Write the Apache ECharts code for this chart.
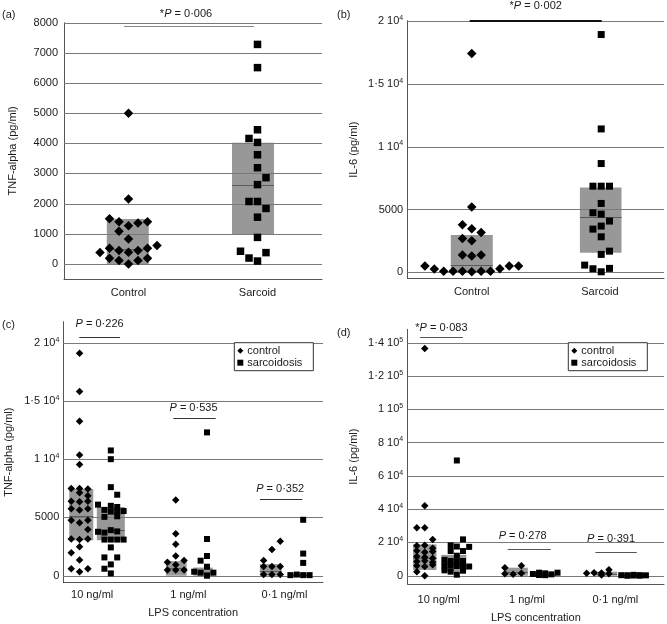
<!DOCTYPE html>
<html><head><meta charset="utf-8">
<script src="https://cdn.jsdelivr.net/npm/echarts@6/dist/echarts.min.js"></script>
<style>html,body{margin:0;padding:0;background:#fff}#chart{width:667px;height:624px}</style>
</head><body><div id="chart"></div>
<script>
// ---------------- DATA ----------------
const abCategories = ['Control', 'Sarcoid'];
const lpsCategories = ['10 ng/ml', '1 ng/ml', '0·1 ng/ml'];
const panelLetters = ['(a)', '(b)', '(c)', '(d)'];
const yTitles = ['TNF-alpha (pg/ml)', 'IL-6 (pg/ml)', 'TNF-alpha (pg/ml)', 'IL-6 (pg/ml)'];
const xTitle = 'LPS concentration';
const legendNames = ['control', 'sarcoidosis'];

// (a) TNF-alpha, values + dot-plot column of each point
const aControl    = [5000, 2150, 1500, 1400, 1265, 1355, 1400, 1080, 830, 380, 520, 445, 390, 445, 520, 610, 190, 115, 0, 115, 190];
const aControlCol = [0, 0, -2, -1, 0, 1, 2, -1, 0, -3, -2, -1, 0, 1, 2, 3, -2, -1, 0, 1, 2];
const aSarcoid    = [7280, 6510, 4450, 4160, 4030, 3620, 3190, 2860, 2630, 2070, 2070, 1840, 1550, 880, 420, 375, 195, 95];
const aSarcoidCol = [0, 0, 0, -1, 0, 0, 0, 1, 0, -1, 0, 1, 0, 0, -2, 1, -1, 0];
const aBoxControl = [0, 1490, 500];     // bottom, top, median
const aBoxSarcoid = [990, 4020, 2615];
const aP = ['*', '0·006'];

// (b) IL-6
const bControl    = [17400, 5200, 3790, 3470, 3180, 2700, 2510, 1380, 1300, 1380, 510, 275, 90, 90, 90, 60, 90, 90, 290, 510, 500];
const bControlCol = [0, 0, -1, 0, 1, -1, 0, -1, 0, 1, -5, -4, -3, -2, -1, 0, 1, 2, 3, 4, 5];
const bSarcoid    = [18900, 11400, 8650, 6850, 6850, 6850, 5480, 4740, 4630, 4080, 3680, 3440, 2830, 1690, 1430, 580, 290, 50, 320];
const bSarcoidCol = [0, 0, 0, -1, 0, 1, 0, -1, 0, 1, 0, -1, 0, 1, 0, -2, -1, 0, 1];
const bBoxControl = [0, 2980, 580];
const bBoxSarcoid = [1560, 6750, 4420];
const bP = ['*', '0·002'];

// (c) TNF-alpha by LPS concentration
const cControl10     = [19100, 15800, 13250, 10350, 9550, 7480, 7480, 7450, 7110, 6860, 6400, 6350, 6400, 5750, 5650, 5750, 4770, 4540, 4770, 3970, 3150, 3100, 3150, 2490, 1970, 1340, 600, 340, 600];
const cControl10Col  = [0, 0, 0, 0, 0, -1, 0, 1, 0, 1, -1, 0, 1, -1, 0, 1, -1, 0, 1, 1, -1, 0, 1, 0, -1, 0, -1, 0, 1];
const cSarcoid10     = [10750, 10000, 7600, 6950, 6100, 6000, 5900, 5650, 5500, 5500, 5550, 5050, 5100, 3770, 3700, 3910, 3800, 3100, 3100, 3100, 3100, 2430, 1570, 1570, 970, 600, 200];
const cSarcoid10Col  = [0, 0, 0, 1, -2, 0, 1, -1, 0, 1, 2, -1, 1, -2, -1, 0, 1, -1, 0, 1, 2, 0, -1, 1, 0, -1, 0];
const cControl1      = [6500, 3600, 2700, 1700, 1150, 950, 1300, 500, 500, 500];
const cControl1Col   = [0, 0, 0, 0, -1, 0, 1, -1, 0, 1];
const cSarcoid1      = [12300, 3150, 1690, 1290, 340, 260, 770, 260, 0];
const cSarcoid1Col   = [0, 0, 0, -1, -2, -1, 0, 1, 0];
const cControl01     = [2950, 2250, 1300, 800, 800, 800, 100, 100, 100];
const cControl01Col  = [1, 0, -1, -1, 0, 1, -1, 0, 1];
const cSarcoid01     = [4800, 1900, 1100, 50, 100, 50, 50];
const cSarcoid01Col  = [0, 0, 0, -2, -1, 0, 1];
const cBoxControl = [[3050, 7450, 5150], [0, 1250, 650], [0, 1000, 400]];
const cBoxSarcoid = [[3050, 5900, 3900], [0, 700, 350], [0, 200, 80]];
const cP = [['', '0·226'], ['', '0·535'], ['', '0·352']];

// (d) IL-6 by LPS concentration
const dControl10     = [136500, 42000, 28800, 28800, 21800, 18000, 18300, 16500, 15000, 14000, 14500, 11500, 11000, 10500, 8500, 9000, 8000, 6000, 5500, 6500, 2400, 0];
const dControl10Col  = [0, 0, -1, 0, 1, -1, 0, 1, -1, 0, 1, -1, 0, 1, -1, 0, 1, -1, 0, 1, -1, 0];
const dSarcoid10     = [69200, 21800, 18200, 17500, 17300, 14800, 14800, 12000, 9500, 8800, 8600, 8800, 6200, 6000, 5800, 6000, 5500, 3200, 2400, 3000, 600];
const dSarcoid10Col  = [0, 1, -1, 0, 2, -1, 1, 0, -2, -1, 0, 1, -2, -1, 0, 1, 2, -2, -1, 1, 0];
const dControl1      = [6000, 4800, 1200, 800, 1400];
const dControl1Col   = [1, -1, -1, 0, 1];
const dSarcoid1      = [1800, 1000, 400, 1400, 300, 800, 1800];
const dSarcoid1Col   = [-1, -2, -1, 0, 0, 1, 2];
const dControl01     = [1500, 1800, 1600, 3600, 1200, 400];
const dControl01Col  = [-2, -1, 0, 1, 1, 0];
const dSarcoid01     = [300, 200, 500, 300, 200, 0, 100, 0];
const dSarcoid01Col  = [-2, -1, 0, 1, 2, -1, 0, 1];
const dBoxControl = [[3400, 18800, 10500], [0, 4800, 2000], [0, 2400, 1000]];
const dBoxSarcoid = [[2500, 12500, 7000], [0, 1400, 600], [0, 500, 200]];
const dP = [['*', '0·083'], ['', '0·278'], ['', '0·391']];

// ---------------- LAYOUT / STYLE ----------------
const F = "'Liberation Sans', Arial, Helvetica, sans-serif";
const INK = '#1a1a1a';
const GRIDC = '#7a7a7a';

function sciLabel(v) {
  if (v === 0) return '0';
  if (v < 10000) return String(v);
  const e = Math.floor(Math.log10(v) + 1e-9);
  const m = Math.round(v / Math.pow(10, e) * 10) / 10;
  return String(m).replace('.', '·') + ' 10{s|' + e + '}';
}
function pText(p) { return p[0] + '{i|P} = ' + p[1]; }

const panels = [
  { grid: {left: 64, top: 22.7, width: 258, height: 256.3},
    y: {min: -500, max: 8000, step: 500, gridStep: 1000, margin: 6, nameGap: 46, plain: true},
    x: {max: 2, step: 0.5, at: [0.5, 1.5], labels: abCategories, margin: 8},
    letter: {left: 2, top: 9},
    groups: [
      {x: 0.5, vals: aControl, cols: aControlCol, sym: 'diamond', size: 9.5, sp: 9.5, box: aBoxControl, bw: 42, bs: -0.7, name: 'a1'},
      {x: 1.5, vals: aSarcoid, cols: aSarcoidCol, sym: 'rect', size: 7.5, sp: 8.5, box: aBoxSarcoid, bw: 42, bs: -4.5, name: 'a2'}
    ],
    sigs: [{x1: 0.465, x2: 1.473, y: 7890, p: aP, dy: 13, dx: -3, color: '#8a8a8a', w: 1}]
  },
  { grid: {left: 407.7, top: 20.7, width: 257.3, height: 258},
    y: {min: -500, max: 20000, step: 500, gridStep: 5000, margin: 4.5, nameGap: 48},
    x: {max: 2, step: 0.5, at: [0.5, 1.5], labels: abCategories, margin: 8},
    letter: {left: 337, top: 9},
    groups: [
      {x: 0.5, vals: bControl, cols: bControlCol, sym: 'diamond', size: 9.5, sp: 9.4, box: bBoxControl, bw: 42, bs: 0, name: 'b1'},
      {x: 1.51, vals: bSarcoid, cols: bSarcoidCol, sym: 'rect', size: 7, sp: 8.3, box: bBoxSarcoid, bw: 41.6, bs: -0.5, name: 'b2'}
    ],
    sigs: [{x1: 0.484, x2: 1.514, y: 20000, p: bP, dy: 15.5, dx: 0, color: '#111', w: 2}]
  },
  { grid: {left: 63.3, top: 321.7, width: 259.7, height: 261},
    y: {min: -600, max: 21800, step: 200, gridStep: 5000, margin: 4, nameGap: 49},
    x: {max: 2.7, step: 0.05, at: [0.3, 1.3, 2.3], labels: lpsCategories, margin: 7, name: xTitle, nameGap: 25},
    letter: {left: 2, top: 319},
    legend: {left: 234.3, top: 342.7},
    groups: [],
    sigs: []
  },
  { grid: {left: 407.7, top: 329.3, width: 258, height: 255.7},
    y: {min: -5000, max: 148000, step: 5000, gridStep: 20000, margin: 4.5, nameGap: 48},
    x: {max: 2.9, step: 0.05, at: [0.35, 1.35, 2.35], labels: lpsCategories, margin: 10, name: xTitle, nameGap: 28},
    letter: {left: 337, top: 327},
    legend: {left: 568.3, top: 342.7},
    groups: [],
    sigs: []
  }
];

// (c) groups
(function () {
  const p = panels[2];
  const ctrl = [cControl10, cControl1, cControl01], ctrlC = [cControl10Col, cControl1Col, cControl01Col];
  const sarc = [cSarcoid10, cSarcoid1, cSarcoid01], sarcC = [cSarcoid10Col, cSarcoid1Col, cSarcoid01Col];
  const cbw = [24, 20.7, 21.7], cbs = [1.7, 0.5, -1.2], sbw = [28, 19.4, 20], sbs = [0, -4, -3.3];
  for (let i = 0; i < 3; i++) {
    p.groups.push({x: p.x.at[i] - 0.131, vals: ctrl[i], cols: ctrlC[i], sym: 'diamond', size: 7.5, sp: 8.3, box: cBoxControl[i], bw: cbw[i], bs: cbs[i], name: legendNames[0]});
    p.groups.push({x: p.x.at[i] + 0.194, vals: sarc[i], cols: sarcC[i], sym: 'rect', size: 6, sp: 6.4, box: cBoxSarcoid[i], bw: sbw[i], bs: sbs[i], name: legendNames[1]});
  }
  const sx = [[0.166, 0.589, 20460, 14, 0], [1.144, 1.584, 13510, 10.5, -1], [2.045, 2.485, 6584, 11, -1]];
  sx.forEach((s, i) => p.sigs.push({x1: s[0], x2: s[1], y: s[2], p: cP[i], dy: s[3], dx: s[4], color: '#333', w: 1}));
})();
// (d) groups
(function () {
  const p = panels[3];
  const ctrl = [dControl10, dControl1, dControl01], ctrlC = [dControl10Col, dControl1Col, dControl01Col];
  const sarc = [dSarcoid10, dSarcoid1, dSarcoid01], sarcC = [dSarcoid10Col, dSarcoid1Col, dSarcoid01Col];
  const cbw = [23.4, 23.3, 23.3], cbs = [0, 3, 4], sbw = [25, 25, 26.7], sbs = [-3, -2, -2];
  const csp = [8, 8.3, 7.5];
  for (let i = 0; i < 3; i++) {
    p.groups.push({x: p.x.at[i] - 0.157, vals: ctrl[i], cols: ctrlC[i], sym: 'diamond', size: 7.5, sp: csp[i], box: dBoxControl[i], bw: cbw[i], bs: cbs[i], name: legendNames[0]});
    p.groups.push({x: p.x.at[i] + 0.206, vals: sarc[i], cols: sarcC[i], sym: 'rect', size: 6, sp: 6.2, box: dBoxSarcoid[i], bw: sbw[i], bs: sbs[i], name: legendNames[1]});
  }
  const sx = [[0.138, 0.625, 143200, 9.5, 0], [1.131, 1.619, 15940, 13.5, -6.5], [2.124, 2.592, 14320, 13.5, -5]];
  sx.forEach((s, i) => p.sigs.push({x1: s[0], x2: s[1], y: s[2], p: dP[i], dy: s[3], dx: s[4], color: '#555', w: 1}));
})();

// ---------------- OPTION ----------------
const option = {
  animation: false,
  backgroundColor: '#fff',
  textStyle: {fontFamily: F},
  title: [], grid: [], xAxis: [], yAxis: [], series: [], legend: []
};

panels.forEach((p, k) => {
  const g = p.grid;
  option.grid.push({left: g.left, top: g.top, width: g.width, height: g.height, containLabel: false});
  option.title.push({text: panelLetters[k], left: p.letter.left, top: p.letter.top, padding: 0,
    textStyle: {fontSize: 11, fontWeight: 'normal', color: INK, fontFamily: F}});
  const xa = p.x;
  option.xAxis.push({
    type: 'value', gridIndex: k, min: 0, max: xa.max, interval: xa.step,
    axisLine: {show: true, onZero: false, lineStyle: {color: '#555', width: 1}},
    axisTick: {show: false}, splitLine: {show: false},
    axisLabel: {color: INK, fontSize: 11, fontFamily: F, margin: xa.margin, showMinLabel: true, showMaxLabel: true,
      formatter: v => { for (let i = 0; i < xa.at.length; i++) if (Math.abs(v - xa.at[i]) < 1e-4) return xa.labels[i]; return ''; }},
    name: xa.name || '', nameLocation: 'middle', nameGap: xa.nameGap || 20,
    nameTextStyle: {color: INK, fontSize: 11, fontFamily: F}
  });
  const ya = p.y;
  option.yAxis.push({
    type: 'value', gridIndex: k, min: ya.min, max: ya.max, interval: ya.step,
    axisLine: {show: true, onZero: false, lineStyle: {color: '#555', width: 1}},
    axisTick: {show: false}, splitLine: {show: false},
    axisLabel: {color: INK, fontSize: 11, fontFamily: F, margin: ya.margin, lineHeight: 13,
      formatter: v => { if (Math.abs(v % ya.gridStep) > 1e-6 || v < 0) return ''; return ya.plain ? String(v) : sciLabel(v); },
      rich: {s: {fontSize: 7, fontFamily: F, color: INK, verticalAlign: 'top', lineHeight: 8}}},
    name: yTitles[k], nameLocation: 'middle', nameRotate: 90, nameGap: ya.nameGap,
    nameTextStyle: {color: INK, fontSize: 11, fontFamily: F}
  });

  // horizontal grid lines (through the y scale)
  const gv = [];
  for (let v = 0; v <= ya.max + 1e-6; v += ya.gridStep) gv.push([0, v]);
  option.series.push({
    type: 'custom', xAxisIndex: k, yAxisIndex: k, z: 2, silent: true, data: gv,
    encode: {x: 0, y: 1},
    renderItem: (params, api) => {
      const pt = api.coord([api.value(0), api.value(1)]);
      const cs = params.coordSys;
      const y = Math.round(pt[1]) + 0.5;
      return {type: 'line', shape: {x1: cs.x, y1: y, x2: cs.x + cs.width, y2: y}, style: {stroke: GRIDC, lineWidth: 1}};
    }
  });

  const pxPerUnit = g.width / xa.max;
  p.groups.forEach(gr => {
    // box
    option.series.push({
      type: 'custom', xAxisIndex: k, yAxisIndex: k, z: 1, silent: true,
      data: [[gr.x, gr.box[0], gr.box[1], gr.box[2]]], encode: {x: 0, y: [1, 2, 3]},
      renderItem: (params, api) => {
        const x = api.value(0);
        const pb = api.coord([x, api.value(1)]);
        const pt = api.coord([x, api.value(2)]);
        const pm = api.coord([x, api.value(3)]);
        const cx = pb[0] + gr.bs, hw = gr.bw / 2;
        const my = Math.round(pm[1]) + 0.5;
        return {type: 'group', children: [
          {type: 'rect', shape: {x: cx - hw, y: pt[1], width: hw * 2, height: pb[1] - pt[1]}, style: {fill: '#989898'}},
          {type: 'line', shape: {x1: cx - hw, y1: my, x2: cx + hw, y2: my}, style: {stroke: '#5a5a5a', lineWidth: 1}}
        ]};
      }
    });
    // points
    option.series.push({
      type: 'scatter', name: gr.name, xAxisIndex: k, yAxisIndex: k, z: 4,
      symbol: gr.sym, symbolSize: gr.size, itemStyle: {color: '#000', opacity: 1},
      data: gr.vals.map((v, i) => [gr.x + gr.cols[i] * gr.sp / pxPerUnit, v])
    });
  });

  // significance bars
  if (p.sigs.length) {
    option.series.push({
      type: 'custom', xAxisIndex: k, yAxisIndex: k, z: 3, silent: true,
      data: p.sigs.map(s => [s.x1, s.x2, s.y]), encode: {x: [0, 1], y: 2},
      renderItem: (params, api) => {
        const s = p.sigs[params.dataIndex];
        const p1 = api.coord([api.value(0), api.value(2)]);
        const p2 = api.coord([api.value(1), api.value(2)]);
        const y = s.w === 1 ? Math.round(p1[1]) + 0.5 : Math.round(p1[1]);
        return {type: 'group', children: [
          {type: 'line', shape: {x1: p1[0], y1: y, x2: p2[0], y2: y}, style: {stroke: s.color, lineWidth: s.w}},
          {type: 'text', x: (p1[0] + p2[0]) / 2 + s.dx, y: y - s.dy,
            style: {text: pText(s.p), fill: INK, font: '11px ' + F, align: 'center', verticalAlign: 'middle',
              rich: {i: {fontStyle: 'italic', fontSize: 11, fontFamily: F, fill: INK}}}}
        ]};
      }
    });
  }

  if (p.legend) {
    option.legend.push({
      left: p.legend.left, top: p.legend.top, orient: 'vertical',
      data: [{name: legendNames[0], icon: 'diamond'}, {name: legendNames[1], icon: 'rect'}],
      itemWidth: 6, itemHeight: 6, itemGap: 0, selectedMode: false,
      itemStyle: {opacity: 1},
      padding: [2, 11, 2, 3], borderColor: '#333', borderWidth: 1, backgroundColor: '#fff',
      textStyle: {fontSize: 11, color: INK, fontFamily: F, lineHeight: 12, padding: [0, 0, 0, -1]}
    });
  }
});

const chart = echarts.init(document.getElementById('chart'), null, {renderer: 'canvas'});
chart.setOption(option);
</script>
</body></html>
